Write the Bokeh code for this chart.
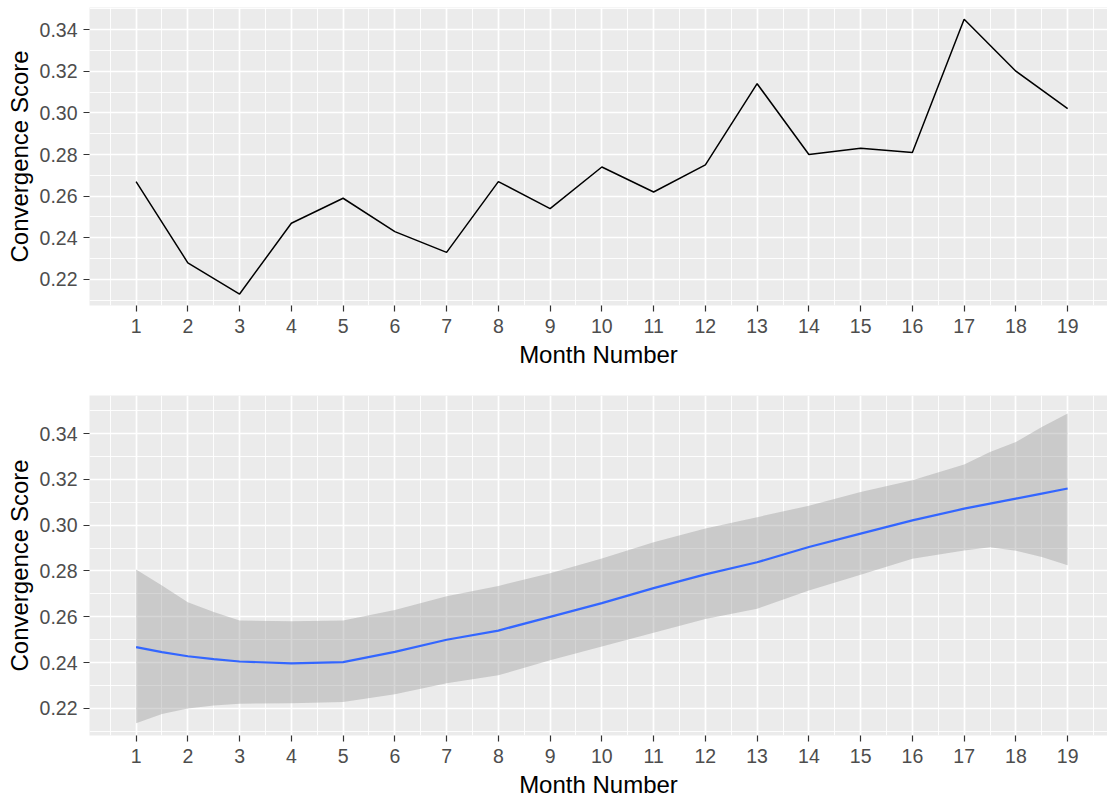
from bokeh.plotting import figure
from bokeh.layouts import column
from bokeh.models import ColumnDataSource, FixedTicker, Range1d
from bokeh.embed import file_html
from bokeh.resources import INLINE

# Monthly convergence scores
months = list(range(1, 20))
scores = [0.267, 0.228, 0.213, 0.247, 0.259, 0.243, 0.233, 0.267, 0.254, 0.274,
          0.262, 0.275, 0.314, 0.280, 0.283, 0.281, 0.345, 0.320, 0.302]

# Smoothed trend with its confidence band
smooth_x = [1, 1.5, 2, 2.5, 3, 4, 5, 6, 7, 8, 9, 10, 11, 12, 13, 14, 15, 16, 17, 17.5, 18, 18.5, 19]
smooth_fit = [0.2468, 0.2446, 0.2428, 0.2415, 0.2405, 0.2397, 0.2402, 0.2447, 0.2500, 0.2540,
              0.2600, 0.2660, 0.2725, 0.2785, 0.2838, 0.2905, 0.2963, 0.3021, 0.3072, 0.3094,
              0.3116, 0.3138, 0.3160]
smooth_lower = [0.2136, 0.2176, 0.2200, 0.2213, 0.2221, 0.2223, 0.2228, 0.2262, 0.2310, 0.2345,
                0.2410, 0.2470, 0.2530, 0.2590, 0.2635, 0.2715, 0.2784, 0.2854, 0.2890, 0.2904,
                0.2888, 0.2861, 0.2825]
smooth_upper = [0.2807, 0.2737, 0.2664, 0.2621, 0.2584, 0.2581, 0.2584, 0.2630, 0.2690, 0.2735,
                0.2790, 0.2855, 0.2925, 0.2985, 0.3035, 0.3085, 0.3145, 0.3196, 0.3265, 0.3319,
                0.3363, 0.3428, 0.3487]

x_ticks = list(range(1, 20))
x_minor = [i + 0.5 for i in range(0, 20)]
y_ticks = [0.22, 0.24, 0.26, 0.28, 0.30, 0.32, 0.34]
y_minor = [0.21, 0.23, 0.25, 0.27, 0.29, 0.31, 0.33, 0.35]

FONT = "Liberation Sans"


def styled_figure(height, y_lo, y_hi, border_top, border_bottom):
    p = figure(width=1107, height=height, output_backend="svg", toolbar_location=None,
               x_range=Range1d(0.1, 19.77), y_range=Range1d(y_lo, y_hi),
               min_border_left=89, min_border_right=0,
               min_border_top=border_top, min_border_bottom=border_bottom)
    p.background_fill_color = "#EBEBEB"
    p.border_fill_color = "white"
    p.outline_line_color = None

    p.xaxis.ticker = FixedTicker(ticks=x_ticks, minor_ticks=x_minor)
    p.yaxis.ticker = FixedTicker(ticks=y_ticks, minor_ticks=y_minor)
    p.yaxis.major_label_overrides = {t: f"{t:.2f}" for t in y_ticks}

    for ax in (p.xaxis[0], p.yaxis[0]):
        ax.axis_line_color = None
        ax.minor_tick_line_color = None
        ax.major_tick_in = 0
        ax.major_tick_out = 6
        ax.major_tick_line_color = "#333333"
        ax.major_tick_line_width = 1.2
        ax.major_label_text_font = FONT
        ax.major_label_text_font_size = "19.5px"
        ax.major_label_text_color = "#4D4D4D"
        ax.axis_label_text_font = FONT
        ax.axis_label_text_font_size = "24px"
        ax.axis_label_text_font_style = "normal"
        ax.axis_label_text_color = "black"

    p.xaxis.axis_label = "Month Number"
    p.yaxis.axis_label = "Convergence Score"
    p.xaxis.major_label_standoff = 7
    p.yaxis.major_label_standoff = 6
    p.xaxis.axis_label_standoff = 5
    p.yaxis.axis_label_standoff = 4

    for g in (p.xgrid[0], p.ygrid[0]):
        g.grid_line_color = "white"
        g.grid_line_width = 1.7
        g.minor_grid_line_color = "white"
        g.minor_grid_line_width = 0.9
    return p


# Raw monthly series
top = styled_figure(388, 0.2075, 0.3506, 7, 83)
src = ColumnDataSource(dict(month=months, score=scores))
top.line("month", "score", source=src, line_color="black", line_width=1.5)

# Smoothed trend
bottom = styled_figure(413, 0.2082, 0.3566, 7, 66)
band = ColumnDataSource(dict(x=smooth_x, fit=smooth_fit, lo=smooth_lower, hi=smooth_upper))
bottom.varea(x="x", y1="lo", y2="hi", source=band, fill_color="#999999", fill_alpha=0.4)
bottom.line("x", "fit", source=band, line_color="#3366FF", line_width=2.2)

layout = column(top, bottom, spacing=0)
open("out.html", "w").write(file_html(layout, INLINE))
